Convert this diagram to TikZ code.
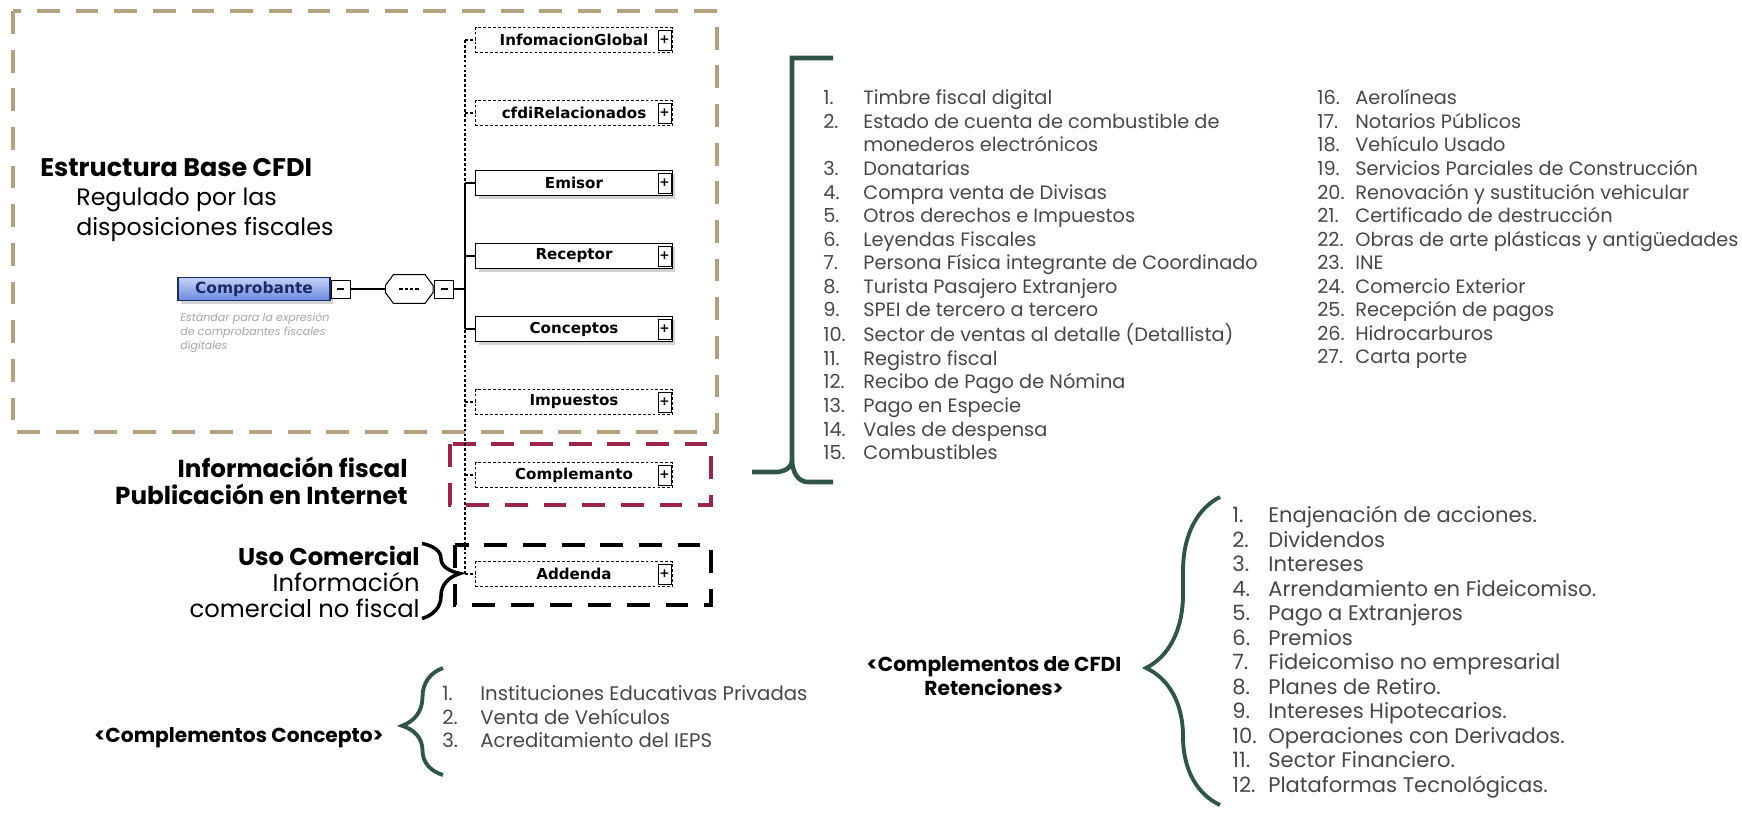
\documentclass[tikz,border=0pt]{standalone}
\usepackage{fontspec}
\setmainfont{Poppins}
\newfontfamily\boxfont{DejaVu Sans}
\usetikzlibrary{positioning,shadows,decorations.pathreplacing}

\definecolor{guinda}{HTML}{9D2449}
\definecolor{verde}{HTML}{2F5547}
\definecolor{dorado}{HTML}{B3A27F}
\definecolor{gris}{HTML}{474747}
\definecolor{azulclaro}{HTML}{C3D2F7}
\definecolor{azulmedio}{HTML}{6C8BDF}
\definecolor{azulosc}{HTML}{1C2A66}

\begin{document}
\begin{tikzpicture}[
		x=0.02cm, y=-0.02cm,
		elem/.style={draw, fill=white, minimum width=3.94cm, minimum height=0.5cm, inner sep=0pt,
			font=\boxfont\bfseries\fontsize{8.6}{10}\selectfont, line width=0.6pt},
		reqelem/.style={elem, drop shadow={shadow xshift=0.06cm, shadow yshift=-0.06cm, opacity=0.35}},
		optelem/.style={elem, dash pattern=on 1.6pt off 1.2pt},
		plusbox/.style={draw, solid, fill=white, minimum width=0.26cm, minimum height=0.4cm, inner sep=0pt,
			font=\boxfont\bfseries\fontsize{7}{8}\selectfont, line width=0.5pt, anchor=east},
		minusbox/.style={draw, fill=white, minimum width=0.38cm, minimum height=0.36cm, inner sep=0pt, line width=0.5pt},
		seqbox/.style={minimum width=0.94cm, minimum height=0.56cm, inner sep=0pt},
		conn/.style={line width=0.6pt},
		optconn/.style={line width=0.6pt, dash pattern=on 1.6pt off 1.2pt},
		zona/.style={line width=2.6pt, dash pattern=on 13pt off 9pt},
		titulo/.style={font=\bfseries\fontsize{14.5}{17}\selectfont, inner sep=0pt},
		lista/.style={font=\fontsize{11}{13.4}\selectfont, text=gris, inner sep=0pt, anchor=north west},
		llave/.style={decorate, line width=2.2pt, verde},
	]
	\useasboundingbox (0,0) rectangle (1742,823);

	% Zones
	\draw[zona, dorado] (13,11) rectangle (717,432);
	\draw[zona, guinda] (450,444) rectangle (711,505);
	\draw[zona, black] (455,545) rectangle (711,605);

	% Root element
	\node[draw=azulosc, line width=0.6pt, top color=azulclaro, bottom color=azulmedio,
		minimum width=3.04cm, minimum height=0.46cm, inner sep=0pt,
		font=\boxfont\bfseries\fontsize{8.8}{10}\selectfont, text=azulosc,
		drop shadow={shadow xshift=0.06cm, shadow yshift=-0.06cm, opacity=0.35}] (root) at (254,289) {Comprobante};
	\node[minusbox, anchor=west] (rootm) at (root.east) {\rule{4pt}{1.2pt}};
	\node[seqbox, right=0.7cm of rootm] (seq) {};
	\node[minusbox, right=0.02cm of seq] (seqm) {\rule{4pt}{1.2pt}};
	% Sequence octagon
	\draw[line width=0.6pt, fill=white] ([yshift=0.07cm]seq.west) -- ([xshift=0.16cm]seq.north west)
		-- ([xshift=-0.16cm]seq.north east) -- ([yshift=0.07cm]seq.east) -- ([yshift=-0.07cm]seq.east)
		-- ([xshift=-0.16cm]seq.south east) -- ([xshift=0.16cm]seq.south west) -- ([yshift=-0.07cm]seq.west) -- cycle;
	\draw[line width=0.9pt, dash pattern=on 2pt off 1pt] ([xshift=-0.2cm]seq.center) -- ([xshift=0.22cm]seq.center);
	\node[anchor=north west, inner sep=0pt, align=left, text=black!35,
		font=\itshape\fontsize{6.3}{8}\selectfont] (rootdesc) at (180,312)
		{Estándar para la expresión\\de comprobantes fiscales\\digitales};

	% Child elements
	\node[optelem] (infoG) at (574,40) {InfomacionGlobal};
	\node[optelem] (cfdiRel) at (574,113) {cfdiRelacionados};
	\node[reqelem] (emisor) at (574,183) {Emisor};
	\node[reqelem] (receptor) at (574,256) {Receptor};
	\node[reqelem] (conceptos) at (574,329) {Conceptos};
	\node[optelem] (impuestos) at (574,402) {Impuestos};
	\node[optelem] (complemento) at (574,475) {Complemanto};
	\node[optelem] (addenda) at (574,574) {Addenda};
	\foreach \e in {infoG,cfdiRel,emisor,receptor,conceptos,impuestos,complemento,addenda}
		\node[plusbox] (\e-p) at ([xshift=-0.03cm]\e.east) {+};

	% Sequence bus
	\coordinate (busT) at (465,40);
	\coordinate (busB) at (465,574);
	\draw[optconn] (busT) -- (busB);
	\draw[conn] (emisor.west -| busT) -- (conceptos.west -| busT);
	\draw[conn] (rootm.east) -- (seq.west);
	\draw[conn] (seqm.east) -- (seqm.east -| busT);
	\foreach \e in {infoG,cfdiRel,impuestos,complemento,addenda}
		\draw[optconn] (\e.west -| busT) -- (\e.west);
	\foreach \e in {emisor,receptor,conceptos}
		\draw[conn] (\e.west -| busT) -- (\e.west);

	% Labels for the zones
	\node[titulo, anchor=west] (base) at (40,168) {Estructura Base CFDI};
	\node[anchor=north west, align=left, inner sep=0pt, font=\fontsize{13.5}{17}\selectfont]
		(regulado) at (76,188) {Regulado por las\\disposiciones fiscales};
	\node[titulo, anchor=east, align=right, font=\bfseries\fontsize{14}{15.3}\selectfont]
		(fiscal) at (408,481) {Información fiscal\\Publicación en Internet};
	\node[anchor=east, align=right, inner sep=0pt, font=\fontsize{13.8}{15}\selectfont]
		(comercial) at (420,582) {\textbf{Uso Comercial}\\Información\\comercial no fiscal};
	\draw[decorate, decoration={brace, amplitude=0.76cm, aspect=0.4}, line width=2pt]
		(comercial.north east) ++(2,-2) coordinate (llaveT) -- (llaveT |- comercial.south) coordinate (llaveB);

	% Complementos list
	\draw[verde, line width=2.6pt] (833,58) -- (792,58) -- (792,460) to[out=-90,in=0] (776,472) -- (752,472);
	\draw[verde, line width=2.6pt] (792,460) to[out=-90,in=180] (808,482) -- (833,482);
	\node[lista] (listaA) at (823,88) {%
		\begin{tabular}{@{}p{0.8cm}@{}l@{}}
			1. & Timbre fiscal digital\\
			2. & Estado de cuenta de combustible de\\
			   & monederos electrónicos\\
			3. & Donatarias\\
			4. & Compra venta de Divisas\\
			5. & Otros derechos e Impuestos\\
			6. & Leyendas Fiscales\\
			7. & Persona Física integrante de Coordinado\\
			8. & Turista Pasajero Extranjero\\
			9. & SPEI de tercero a tercero\\
			10. & Sector de ventas al detalle (Detallista)\\
			11. & Registro fiscal\\
			12. & Recibo de Pago de Nómina\\
			13. & Pago en Especie\\
			14. & Vales de despensa\\
			15. & Combustibles
		\end{tabular}};
	\node[lista] (listaB) at (1317,88) {%
		\begin{tabular}{@{}p{0.76cm}@{}l@{}}
			16. & Aerolíneas\\
			17. & Notarios Públicos\\
			18. & Vehículo Usado\\
			19. & Servicios Parciales de Construcción\\
			20. & Renovación y sustitución vehicular\\
			21. & Certificado de destrucción\\
			22. & Obras de arte plásticas y antigüedades\\
			23. & INE\\
			24. & Comercio Exterior\\
			25. & Recepción de pagos\\
			26. & Hidrocarburos\\
			27. & Carta porte
		\end{tabular}};

	% Retenciones list
	\node[titulo, align=center, font=\bfseries\fontsize{11.5}{14}\selectfont] (retenciones) at (994,676)
		{<Complementos de CFDI\\Retenciones>};
	\draw[llave, decoration={brace, amplitude=1.48cm, aspect=0.445}] (1220,805) coordinate (retB) -- (1220,497) coordinate (retT);
	\node[lista, font=\fontsize{12}{13.95}\selectfont] (listaC) at (1232,505) {%
		\begin{tabular}{@{}p{0.72cm}@{}l@{}}
			1. & Enajenación de acciones.\\
			2. & Dividendos\\
			3. & Intereses\\
			4. & Arrendamiento en Fideicomiso.\\
			5. & Pago a Extranjeros\\
			6. & Premios\\
			7. & Fideicomiso no empresarial\\
			8. & Planes de Retiro.\\
			9. & Intereses Hipotecarios.\\
			10. & Operaciones con Derivados.\\
			11. & Sector Financiero.\\
			12. & Plataformas Tecnológicas.
		\end{tabular}};

	% Concepto list
	\node[titulo, anchor=west, font=\bfseries\fontsize{11.5}{14}\selectfont] (concepto) at (94,738)
		{<Complementos Concepto>};
	\draw[llave, decoration={brace, amplitude=0.82cm, aspect=0.46}] (443,775) coordinate (conB) -- (443,668) coordinate (conT);
	\node[lista, font=\fontsize{11.2}{13.3}\selectfont] (listaD) at (442,684) {%
		\begin{tabular}{@{}p{0.76cm}@{}l@{}}
			1. & Instituciones Educativas Privadas\\
			2. & Venta de Vehículos\\
			3. & Acreditamiento del IEPS
		\end{tabular}};
\end{tikzpicture}
\end{document}
